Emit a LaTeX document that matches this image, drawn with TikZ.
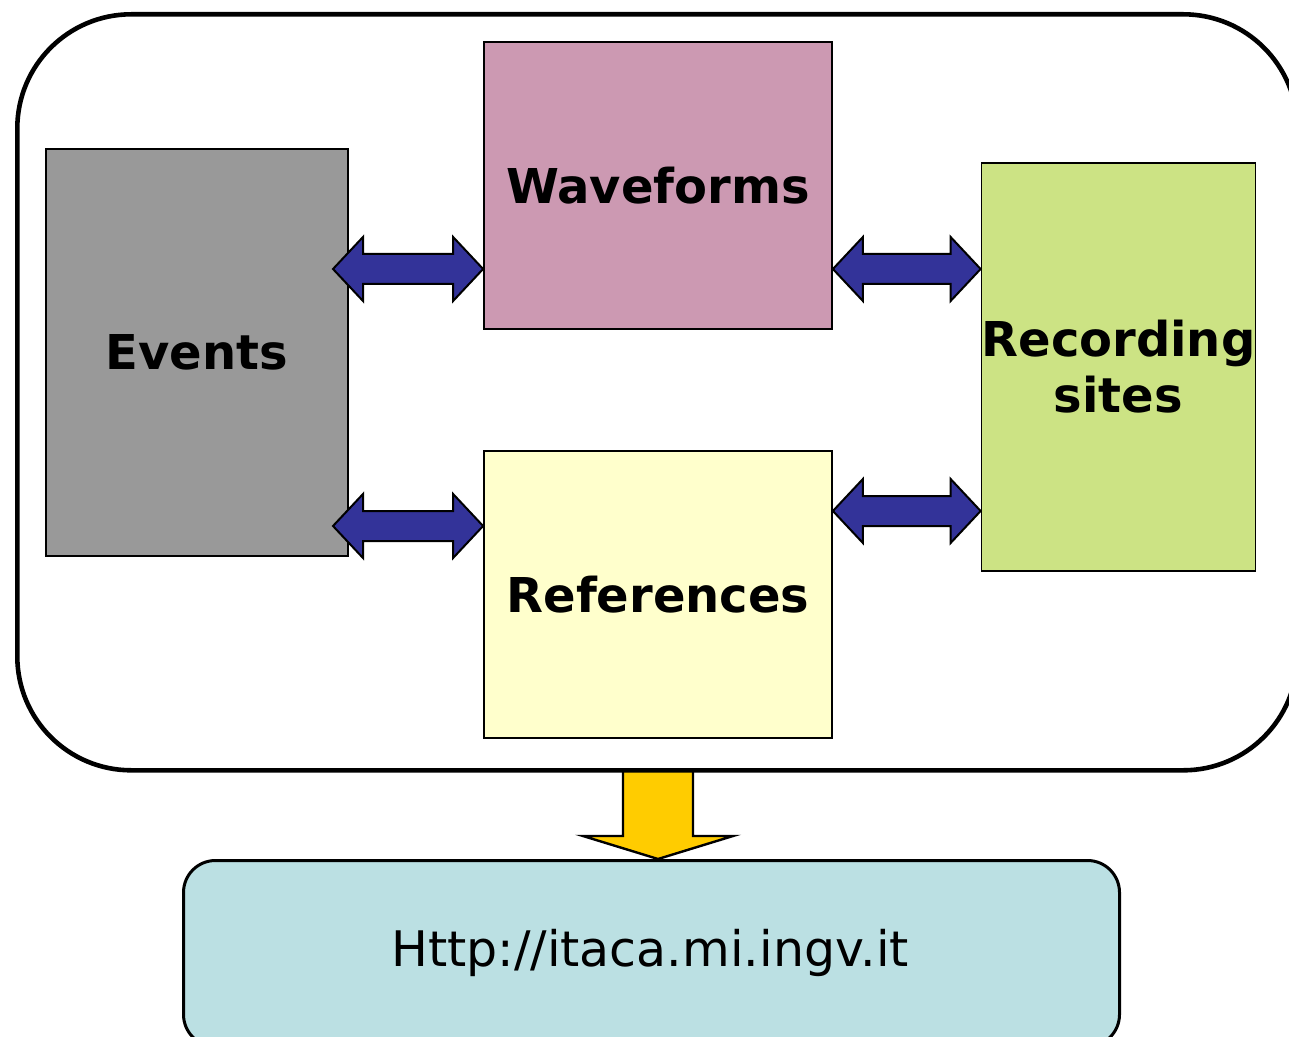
\documentclass[tikz,border=0pt]{standalone}
\usepackage{fontspec}
\setmainfont{DejaVu Sans}
\usetikzlibrary{calc}
\definecolor{evgray}{HTML}{999999}
\definecolor{wfpink}{HTML}{CC99B2}
\definecolor{rsgreen}{HTML}{CCE384}
\definecolor{refyellow}{HTML}{FFFFCC}
\definecolor{arrblue}{HTML}{333399}
\definecolor{arrgold}{HTML}{FFCC00}
\definecolor{urlcyan}{HTML}{BBE0E3}
\tikzset{
  tbox/.style={draw=black, line width=0.9pt, inner sep=0pt, align=center,
    font=\fontsize{24}{28}\selectfont\bfseries},
  dbl/.style={draw=black, line width=1pt, fill=arrblue, line join=miter},
  gold/.style={draw=black, line width=1.2pt, fill=arrgold, line join=miter},
}
\newcommand{\dblarr}[2]{%
  \draw[dbl] (#1) -- ++(30,-32) -- ++(0,17) -- ($(#2)+(-30,-15)$) -- ++(0,-17) -- (#2)
    -- ++(-30,32) -- ++(0,-17) -- ($(#1)+(30,15)$) -- ++(0,17) -- cycle;}
\begin{document}
\begin{tikzpicture}[x=0.5pt,y=-0.5pt]
\useasboundingbox (0,0) rectangle (1289,1037);
% bottom url box
\node[draw=black, line width=1.5pt, fill=urlcyan, rounded corners=16pt,
      minimum width=468pt, minimum height=93pt, inner sep=0pt, anchor=north west]
      (url) at (182,859) {};
\node[font=\fontsize{24.5}{28}\selectfont] (urltext) at (650,953) {Http://itaca.mi.ingv.it};
% gold arrow
\coordinate (gtop) at (658,770);
\coordinate (gtip) at (url.north -| gtop);
\draw[gold] ($(gtop)+(-35,0)$) -- ($(gtop)+(35,0)$) -- ($(gtip)+(35,-23)$) -- ($(gtip)+(75,-23)$)
  -- (gtip) -- ($(gtip)+(-75,-23)$) -- ($(gtip)+(-35,-23)$) -- cycle;
% outer box
\node[draw=black, line width=2.3pt, rounded corners=57pt, inner sep=0pt,
      minimum width=640pt, minimum height=378pt, anchor=north west]
      (outer) at (15,12) {};
% boxes
\node[tbox, fill=evgray, minimum width=151pt, minimum height=203.5pt] (ev) at (197,352.5) {Events};
\node[tbox, fill=wfpink, minimum width=174pt, minimum height=143.5pt] (wf) at (658,185.5) {Waveforms};
\node[tbox, fill=rsgreen, minimum width=136.5pt, minimum height=204pt] (rs) at (1118.5,367) {Recording\\sites};
\node[tbox, fill=refyellow, minimum width=174pt, minimum height=143.5pt] (ref) at (658,594.5) {References};
% double arrows
\coordinate (a1) at (333,269);
\coordinate (b1) at (wf.west |- a1);
\dblarr{a1}{b1}
\coordinate (a2) at (333,526);
\coordinate (b2) at (ref.west |- a2);
\dblarr{a2}{b2}
\coordinate (a3) at (wf.east |- a1);
\coordinate (b3) at (rs.west |- a1);
\dblarr{a3}{b3}
\coordinate (a4) at (ref.east |- 0,511);
\coordinate (b4) at (rs.west |- a4);
\dblarr{a4}{b4}
\end{tikzpicture}
\end{document}
